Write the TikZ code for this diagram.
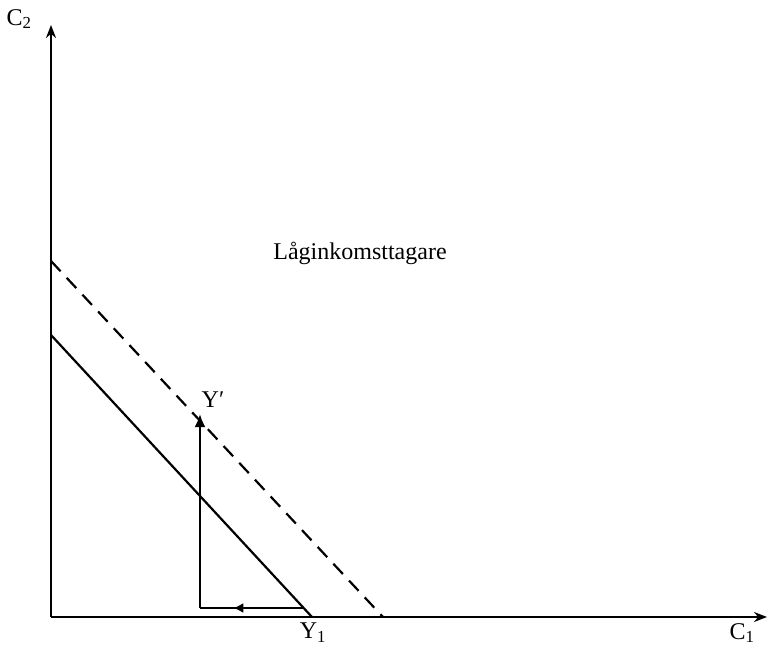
\documentclass[tikz,border=0pt]{standalone}
\usepackage{fontspec}
\setmainfont{Liberation Serif}
\usetikzlibrary{arrows.meta,decorations.markings}
\tikzset{
  axis/.style={line width=2.8pt,-{Stealth[length=13pt,width=10pt]}},
  budget/.style={line width=2.2pt},
  shift arrow/.style={line width=2.6pt},
  lbl/.style={font=\fontsize{24}{27}\selectfont,inner sep=0pt},
}
\begin{document}
\begin{tikzpicture}[x=1pt,y=-1pt]
\useasboundingbox (0,0) rectangle (769,653);
\coordinate (O) at (51,617);
\coordinate (ytip) at (51,25);
\coordinate (xtip) at (767,617);
\coordinate (A) at (51,335);
\coordinate (B) at (312,617);
\coordinate (C) at (51,261);
\coordinate (D) at (383,617);
\coordinate (P) at (200,608);
\coordinate (Q) at (304,608);
\coordinate (R) at (200,414);
% axes
\draw[axis] (O) -- (ytip);
\draw[axis] (O) -- (xtip);
% budget lines
\draw[budget] (A) -- (B);
\draw[budget,dash pattern=on 14pt off 9pt] (C) -- (D);
% shift arrows
\draw[shift arrow,decoration={markings,mark=at position 0.68 with {\arrow{Latex[length=10pt,width=10pt]}}},postaction={decorate}] (Q) -- (P);
\draw[shift arrow,-{Latex[length=13pt,width=11pt]}] (P) -- (R);
% labels
\node[lbl] (c2) at (19,19) {C\textsubscript{2}};
\node[lbl] (c1) at (742,633) {C\textsubscript{1}};
\node[lbl] (yp) at (213,400) {Y′};
\node[lbl] (y1) at (313,633) {Y\textsubscript{1}};
\node[lbl] (title) at (360,253) {Låginkomsttagare};
\end{tikzpicture}
\end{document}
